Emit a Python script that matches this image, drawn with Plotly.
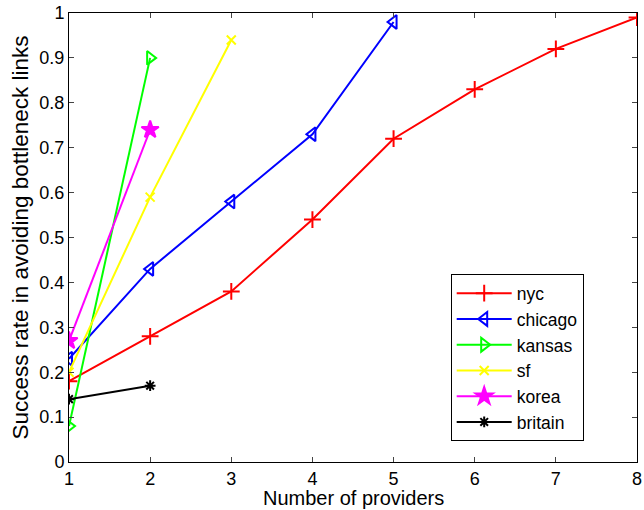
import plotly.graph_objects as go

providers = [1, 2, 3, 4, 5, 6, 7, 8]
nyc = [0.18, 0.28, 0.38, 0.54, 0.72, 0.83, 0.92, 0.99]
chicago = [0.23, 0.43, 0.58, 0.73, 0.98]
kansas = [0.08, 0.90]
sf = [0.20, 0.59, 0.94]
korea = [0.27, 0.74]
britain = [0.14, 0.17]

series = [
    ("nyc", nyc, "#ff0000", "cross-thin"),
    ("chicago", chicago, "#0000ff", "triangle-left-open"),
    ("kansas", kansas, "#00ff00", "triangle-right-open"),
    ("sf", sf, "#ffff00", "x-thin"),
    ("korea", korea, "#ff00ff", "star"),
    ("britain", britain, "#000000", "asterisk"),
]

fig = go.Figure()
for name, vals, col, sym in series:
    size = 13 if sym == "star" else (9 if sym in ("x-thin", "asterisk") else 12)
    fig.add_trace(go.Scatter(
        x=providers[:len(vals)], y=vals, name=name, mode="lines+markers",
        line=dict(color=col, width=2),
        marker=dict(symbol=sym, color=col, size=size,
                    line=dict(color=col, width=2)),
    ))

fig.update_layout(
    width=644, height=510,
    margin=dict(l=69, r=2, t=13, b=48),
    paper_bgcolor="white", plot_bgcolor="white",
    font=dict(family="Liberation Sans, Arial, sans-serif", size=18, color="black"),
    showlegend=True,
    legend=dict(x=0.672, y=0.418, xanchor="left", yanchor="top",
                bordercolor="black", borderwidth=1, bgcolor="white",
                font=dict(size=17.5), tracegroupgap=0, itemwidth=55),
)
fig.add_annotation(text="Number of providers", xref="paper", yref="paper",
                   x=0.5, y=-0.109, xanchor="center", yanchor="bottom",
                   showarrow=False, font=dict(size=20))
fig.update_xaxes(range=[1, 8], tickvals=providers, ticks="inside", ticklen=5,
                 ticklabeloverflow="allow",
                 showline=True, linecolor="black", linewidth=1, mirror="ticks",
                 showgrid=False, zeroline=False)
fig.update_yaxes(range=[0, 1], tickvals=[i / 10 for i in range(11)],
                 ticktext=["0", "0.1", "0.2", "0.3", "0.4", "0.5", "0.6", "0.7", "0.8", "0.9", "1"],
                 ticks="inside", ticklen=5, ticklabeloverflow="allow",
                 showline=True, linecolor="black", linewidth=1, mirror="ticks",
                 showgrid=False, zeroline=False,
                 title=dict(text="Success rate in avoiding bottleneck links", standoff=4,
                            font=dict(size=22.5)))
fig.write_html("out.html")
